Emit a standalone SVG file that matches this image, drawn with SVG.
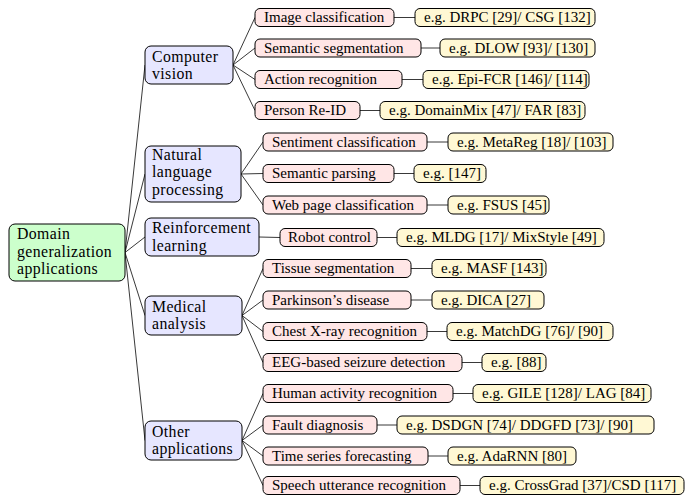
<svg xmlns="http://www.w3.org/2000/svg" width="689" height="495" viewBox="0 0 689 495">
<style>
  .root rect { fill: #ccffcc; stroke: #000; stroke-width: 1; }
  .l1 rect { fill: #e6e6ff; stroke: #000; stroke-width: 1; }
  .l2 rect { fill: #ffe6e6; stroke: #000; stroke-width: 1; }
  .l3 rect { fill: #fff8d4; stroke: #000; stroke-width: 1; }
  text { font-family: "Liberation Serif", "Times New Roman", serif; fill: #000; }
  .big { font-size: 15.8px; letter-spacing: 0.4px; }
  .small { font-size: 15px; }
  .edges line { stroke: #222; stroke-width: 0.9; fill: none; }
</style>
<rect width="689" height="495" fill="#ffffff"/>
<g class="edges" id="connectors">
  <line x1="125" y1="252.5" x2="145" y2="65"/>
  <line x1="125" y1="252.5" x2="145" y2="174"/>
  <line x1="125" y1="252.5" x2="145" y2="237"/>
  <line x1="125" y1="252.5" x2="145" y2="315.5"/>
  <line x1="125" y1="252.5" x2="145" y2="440.5"/>
  <line x1="233" y1="65" x2="255" y2="17.5"/>
  <line x1="233" y1="65" x2="255" y2="48"/>
  <line x1="233" y1="65" x2="255" y2="79.5"/>
  <line x1="233" y1="65" x2="255" y2="110.5"/>
  <line x1="241" y1="174" x2="263" y2="142"/>
  <line x1="241" y1="174" x2="263" y2="173.5"/>
  <line x1="241" y1="174" x2="263" y2="205"/>
  <line x1="259" y1="237" x2="280" y2="237.5"/>
  <line x1="242" y1="315.5" x2="263" y2="268.5"/>
  <line x1="242" y1="315.5" x2="263" y2="300"/>
  <line x1="242" y1="315.5" x2="263" y2="331.5"/>
  <line x1="242" y1="315.5" x2="263" y2="362.5"/>
  <line x1="242" y1="440.5" x2="263" y2="393.5"/>
  <line x1="242" y1="440.5" x2="263" y2="425"/>
  <line x1="242" y1="440.5" x2="263" y2="456"/>
  <line x1="242" y1="440.5" x2="263" y2="485.5"/>
  <line x1="394" y1="17.5" x2="415" y2="17.5"/>
  <line x1="421" y1="48" x2="440" y2="48"/>
  <line x1="402" y1="79.5" x2="423" y2="79.5"/>
  <line x1="360" y1="110.5" x2="380" y2="110.5"/>
  <line x1="427" y1="142" x2="448" y2="142"/>
  <line x1="394" y1="173.5" x2="414" y2="173.5"/>
  <line x1="427" y1="205" x2="448" y2="205"/>
  <line x1="377" y1="237.5" x2="397" y2="237.5"/>
  <line x1="411" y1="268.5" x2="432" y2="268.5"/>
  <line x1="411" y1="300" x2="432" y2="300"/>
  <line x1="427" y1="331.5" x2="447" y2="331.5"/>
  <line x1="462" y1="362.5" x2="482" y2="362.5"/>
  <line x1="453" y1="393.5" x2="473" y2="393.5"/>
  <line x1="377" y1="425" x2="397" y2="425"/>
  <line x1="428" y1="456" x2="448" y2="456"/>
  <line x1="460" y1="485.5" x2="480" y2="485.5"/>
</g>

<g id="root" class="root">
  <rect x="9" y="224" width="116" height="57" rx="6"/>
  <text class="big"><tspan x="17" y="239">Domain</tspan><tspan x="17" y="256.6">generalization</tspan><tspan x="17" y="274.2">applications</tspan></text>
</g>

<g id="cv" class="l1">
  <rect x="145" y="46" width="88" height="38" rx="6"/>
  <text class="big"><tspan x="152" y="61.5">Computer</tspan><tspan x="152" y="79.1">vision</tspan></text>
</g>
<g id="nlp" class="l1">
  <rect x="145" y="146" width="96" height="56" rx="6"/>
  <text class="big"><tspan x="152" y="159.5">Natural</tspan><tspan x="152" y="177.1">language</tspan><tspan x="152" y="194.7">processing</tspan></text>
</g>
<g id="rl" class="l1">
  <rect x="145" y="218" width="114" height="38" rx="6"/>
  <text class="big"><tspan x="152" y="233">Reinforcement</tspan><tspan x="152" y="250.6">learning</tspan></text>
</g>
<g id="med" class="l1">
  <rect x="145" y="296" width="97" height="39" rx="6"/>
  <text class="big"><tspan x="152" y="311.5">Medical</tspan><tspan x="152" y="329.1">analysis</tspan></text>
</g>
<g id="other" class="l1">
  <rect x="145" y="421" width="97" height="39" rx="6"/>
  <text class="big"><tspan x="152" y="436.5">Other</tspan><tspan x="152" y="454.1">applications</tspan></text>
</g>

<g id="img-cls" class="l2"><rect x="255" y="8.5" width="139" height="18" rx="5"/><text class="small" x="264" y="22">Image classification</text></g>
<g id="sem-seg" class="l2"><rect x="255" y="39" width="166" height="18" rx="5"/><text class="small" x="264" y="52.5">Semantic segmentation</text></g>
<g id="act-rec" class="l2"><rect x="255" y="70.5" width="147" height="18" rx="5"/><text class="small" x="264" y="84">Action recognition</text></g>
<g id="reid" class="l2"><rect x="255" y="101.5" width="105" height="18" rx="5"/><text class="small" x="264" y="115">Person Re-ID</text></g>
<g id="senti" class="l2"><rect x="263" y="133" width="164" height="18" rx="5"/><text class="small" x="272" y="146.5">Sentiment classification</text></g>
<g id="parse" class="l2"><rect x="263" y="164.5" width="131" height="18" rx="5"/><text class="small" x="272" y="178">Semantic parsing</text></g>
<g id="web" class="l2"><rect x="263" y="196" width="164" height="18" rx="5"/><text class="small" x="272" y="209.5">Web page classification</text></g>
<g id="robot" class="l2"><rect x="280" y="228.5" width="97" height="18" rx="5"/><text class="small" x="288" y="242">Robot control</text></g>
<g id="tissue" class="l2"><rect x="263" y="259.5" width="148" height="18" rx="5"/><text class="small" x="272" y="273">Tissue segmentation</text></g>
<g id="parkinson" class="l2"><rect x="263" y="291" width="148" height="18" rx="5"/><text class="small" x="272" y="304.5">Parkinson’s disease</text></g>
<g id="chest" class="l2"><rect x="263" y="322.5" width="164" height="18" rx="5"/><text class="small" x="272" y="336">Chest X-ray recognition</text></g>
<g id="eeg" class="l2"><rect x="263" y="353.5" width="199" height="18" rx="5"/><text class="small" x="272" y="367">EEG-based seizure detection</text></g>
<g id="har" class="l2"><rect x="263" y="384.5" width="190" height="18" rx="5"/><text class="small" x="272" y="398">Human activity recognition</text></g>
<g id="fault" class="l2"><rect x="263" y="416" width="114" height="18" rx="5"/><text class="small" x="272" y="429.5">Fault diagnosis</text></g>
<g id="ts" class="l2"><rect x="263" y="447" width="165" height="18" rx="5"/><text class="small" x="272" y="460.5">Time series forecasting</text></g>
<g id="speech" class="l2"><rect x="263" y="476.5" width="197" height="18" rx="5"/><text class="small" x="272" y="490">Speech utterance recognition</text></g>

<g id="ex-img" class="l3"><rect x="415" y="8.5" width="180" height="18" rx="5"/><text class="small" x="424" y="22">e.g. DRPC [29]/ CSG [132]</text></g>
<g id="ex-seg" class="l3"><rect x="440" y="39" width="155" height="18" rx="5"/><text class="small" x="449" y="52.5">e.g. DLOW [93]/ [130]</text></g>
<g id="ex-act" class="l3"><rect x="423" y="70.5" width="166" height="18" rx="5"/><text class="small" x="432" y="84">e.g. Epi-FCR [146]/ [114]</text></g>
<g id="ex-reid" class="l3"><rect x="380" y="101.5" width="205" height="18" rx="5"/><text class="small" x="389" y="115">e.g. DomainMix [47]/ FAR [83]</text></g>
<g id="ex-senti" class="l3"><rect x="448" y="133" width="165" height="18" rx="5"/><text class="small" x="457" y="146.5">e.g. MetaReg [18]/ [103]</text></g>
<g id="ex-parse" class="l3"><rect x="414" y="164.5" width="72" height="18" rx="5"/><text class="small" x="423" y="178">e.g. [147]</text></g>
<g id="ex-web" class="l3"><rect x="448" y="196" width="101" height="18" rx="5"/><text class="small" x="457" y="209.5">e.g. FSUS [45]</text></g>
<g id="ex-robot" class="l3"><rect x="397" y="228.5" width="207" height="18" rx="5"/><text class="small" x="406" y="242">e.g. MLDG [17]/ MixStyle [49]</text></g>
<g id="ex-tissue" class="l3"><rect x="432" y="259.5" width="114" height="18" rx="5"/><text class="small" x="441" y="273">e.g. MASF [143]</text></g>
<g id="ex-park" class="l3"><rect x="432" y="291" width="112" height="18" rx="5"/><text class="small" x="441" y="304.5">e.g. DICA [27]</text></g>
<g id="ex-chest" class="l3"><rect x="447" y="322.5" width="166" height="18" rx="5"/><text class="small" x="456" y="336">e.g. MatchDG [76]/ [90]</text></g>
<g id="ex-eeg" class="l3"><rect x="482" y="353.5" width="64" height="18" rx="5"/><text class="small" x="491" y="367">e.g. [88]</text></g>
<g id="ex-har" class="l3"><rect x="473" y="384.5" width="178" height="18" rx="5"/><text class="small" x="482" y="398">e.g. GILE [128]/ LAG [84]</text></g>
<g id="ex-fault" class="l3"><rect x="397" y="416" width="257" height="18" rx="5"/><text class="small" x="406" y="429.5">e.g. DSDGN [74]/ DDGFD [73]/ [90]</text></g>
<g id="ex-ts" class="l3"><rect x="448" y="447" width="128" height="18" rx="5"/><text class="small" x="457" y="460.5">e.g. AdaRNN [80]</text></g>
<g id="ex-speech" class="l3"><rect x="480" y="476.5" width="204" height="18" rx="5"/><text class="small" x="489" y="490">e.g. CrossGrad [37]/CSD [117]</text></g>
</svg>
